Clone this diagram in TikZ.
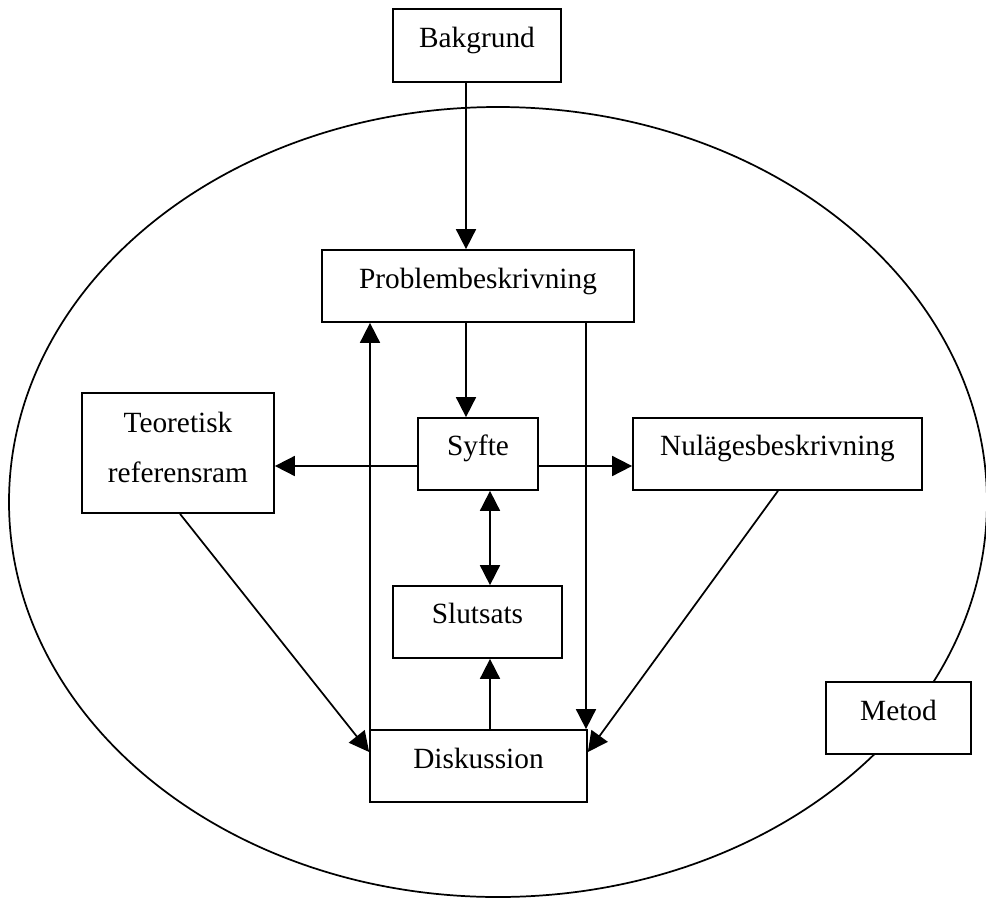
\documentclass[tikz,border=0pt]{standalone}
\usepackage{fontspec}
\setmainfont{Liberation Serif}
\usetikzlibrary{arrows.meta}
\begin{document}
\begin{tikzpicture}[x=0.75pt,y=-0.75pt,
  box/.style={draw, fill=white, line width=1.3pt, inner sep=0pt, rectangle},
  lbl/.style={anchor=base, inner sep=0pt, font=\fontsize{22}{26}\selectfont},
  conn/.style={line width=1.3pt, -{Triangle[length=15pt,width=15pt]}},
  both/.style={line width=1.3pt, {Triangle[length=15pt,width=15pt]}-{Triangle[length=15pt,width=15pt]}},
]
\useasboundingbox (0,0) rectangle (986,900);

% the surrounding method ellipse
\draw[line width=1.3pt] (498,502) ellipse [x radius=366.75pt, y radius=296.25pt];

% boxes
\node[box, minimum width=126pt,    minimum height=54.75pt] (bak)  at (477,45.5) {};
\node[box, minimum width=234pt,    minimum height=54pt]    (prob) at (478,286)  {};
\node[box, minimum width=90pt,     minimum height=54pt]    (syf)  at (478,454)  {};
\node[box, minimum width=216.75pt, minimum height=54pt]    (nul)  at (777.5,454) {};
\node[box, minimum width=144pt,    minimum height=90pt]    (teo)  at (178,453)  {};
\node[box, minimum width=126.75pt, minimum height=54pt]    (slu)  at (477.5,622) {};
\node[box, minimum width=162.75pt, minimum height=54pt]    (dis)  at (478.5,766) {};
\node[box, minimum width=108.75pt, minimum height=54pt]    (met)  at (898.5,718) {};

% box texts
\node[lbl] (bakt)  at (477,47)    {Bakgrund};
\node[lbl] (probt) at (478,288)   {Problembeskrivning};
\node[lbl] (syft)  at (478,455)   {Syfte};
\node[lbl] (nult)  at (777.5,455) {Nulägesbeskrivning};
\node[lbl] (teot1) at (178,432)   {Teoretisk};
\node[lbl] (teot2) at (178,482)   {referensram};
\node[lbl] (slut)  at (477.5,623) {Slutsats};
\node[lbl] (dist)  at (478.5,768) {Diskussion};
\node[lbl] (mett)  at (898.5,720) {Metod};

% guide positions for the connectors
\coordinate (xa) at (466,0);
\coordinate (xb) at (490,0);
\coordinate (xl) at (370,0);
\coordinate (xr) at (586,0);
\coordinate (td) at (180,0);
\coordinate (nd) at (778,0);
\coordinate (yh) at (0,466);
\coordinate (yd) at (0,752);

% connectors
\draw[conn] (bak.south -| xa) -- (prob.north -| xa);
\draw[conn] (prob.south -| xa) -- (syf.north -| xa);
\draw[conn] (syf.west |- yh) -- (teo.east |- yh);
\draw[conn] (syf.east |- yh) -- (nul.west |- yh);
\draw[both] (syf.south -| xb) -- (slu.north -| xb);
\draw[conn] (dis.north -| xb) -- (slu.south -| xb);
\draw[conn] (dis.north -| xl) -- (prob.south -| xl);
\draw[conn] (prob.south -| xr) -- (dis.north -| xr);
\draw[conn] (teo.south -| td) -- (dis.west |- yd);
\draw[conn] (nul.south -| nd) -- (dis.east |- yd);
\end{tikzpicture}
\end{document}
